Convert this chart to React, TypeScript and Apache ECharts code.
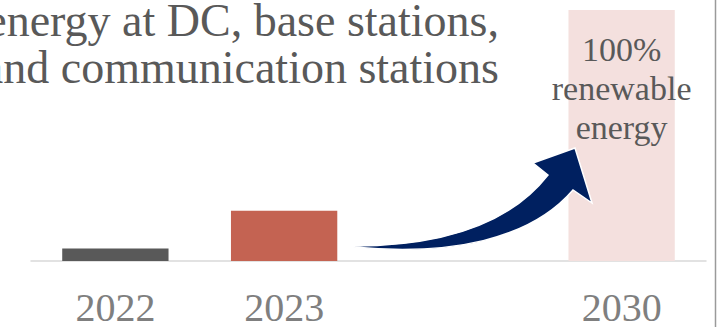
import React, { useEffect, useRef } from 'react';
import * as echarts from 'echarts';

const categories = ['2022', '2023', '', '2030'];
const shares = [5, 20, null, 100];
const barColors = ['#595959', '#C46352', '#FFFFFF', '#F4E0DE'];
const titleLines = ['energy at DC, base stations,', 'and communication stations'];
const targetLabel = '100%\nrenewable\nenergy';

const arrowPath =
  'M353 246 C430 246 505 230 548 175 L533 163 L575 148 L592 203 L573 190 C530 240 450 256 353 247 Z';
echarts.graphic.registerShape('curvedArrow', echarts.graphic.extendPath(arrowPath, {}));

const SERIF = 'Liberation Serif';

export default function App() {
  const ref = useRef<HTMLDivElement>(null);
  useEffect(() => {
    document.body.style.margin = '0';
    const chart = echarts.init(ref.current!, null, { renderer: 'svg' });
    chart.setOption({
      animation: false,
      backgroundColor: '#FFFFFF',
      grid: { left: 31, width: 675, top: 10, height: 252 },
      xAxis: {
        type: 'category',
        data: categories,
        axisLine: { lineStyle: { color: '#D9D9D9', width: 1.5 } },
        axisTick: { show: false },
        axisLabel: {
          color: '#7F7F7F',
          fontFamily: SERIF,
          fontSize: 40,
          lineHeight: 30,
          margin: 31,
        },
      },
      yAxis: { type: 'value', min: 0, max: 100, show: false, splitLine: { show: false } },
      series: [
        {
          type: 'bar',
          barWidth: '63%',
          data: shares.map((v, i) => ({
            value: v,
            itemStyle: { color: barColors[i] },
            label:
              i === 3
                ? {
                    show: true,
                    position: 'insideTop',
                    distance: 20,
                    formatter: targetLabel,
                    color: '#595959',
                    fontFamily: SERIF,
                    fontSize: 34,
                    lineHeight: 39,
                    align: 'center',
                  }
                : { show: false },
          })),
        },
      ],
      graphic: [
        {
          type: 'text',
          z: 100,
          style: {
            text: titleLines[0],
            x: 499,
            y: 43,
            textAlign: 'right',
            textVerticalAlign: 'bottom',
            fill: '#595959',
            fontSize: 46,
            fontFamily: SERIF,
          },
        },
        {
          type: 'text',
          z: 100,
          style: {
            text: titleLines[1],
            x: 499,
            y: 90,
            textAlign: 'right',
            textVerticalAlign: 'bottom',
            fill: '#595959',
            fontSize: 46,
            fontFamily: SERIF,
          },
        },
        {
          type: 'curvedArrow',
          x: 0,
          y: 0,
          z: 100,
          style: { fill: '#002060', stroke: '#FFFFFF', lineWidth: 1.5 },
        },
        {
          type: 'line',
          z: 100,
          shape: { x1: 715.5, y1: 0, x2: 715.5, y2: 327 },
          style: { stroke: '#9A9A9A', lineWidth: 1.5 },
        },
      ],
    });
    return () => chart.dispose();
  }, []);
  return <div ref={ref} style={{ width: 723, height: 327 }} />;
}
